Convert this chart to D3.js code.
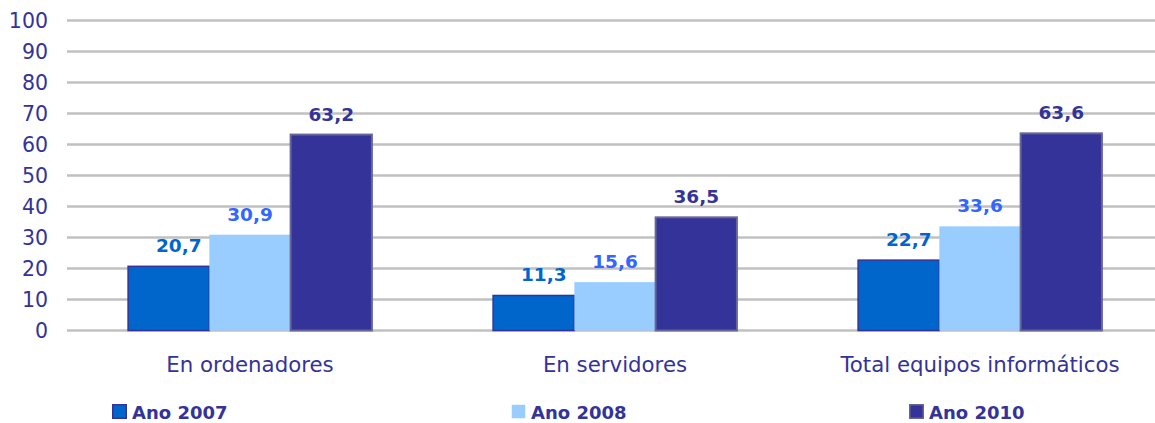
<!DOCTYPE html>
<html>
<head>
<meta charset="utf-8">
<script src="https://cdn.jsdelivr.net/npm/d3@7"></script>
<style>
  html, body { margin: 0; padding: 0; background: #fff; }
  svg { display: block; font-family: "DejaVu Sans", Verdana, sans-serif; }
</style>
</head>
<body>
<svg id="chart" width="1155" height="423"></svg>
<script>
const categories = ["En ordenadores", "En servidores", "Total equipos informáticos"];
const seriesNames = ["Ano 2007", "Ano 2008", "Ano 2010"];
const values2007 = [20.7, 11.3, 22.7];
const values2008 = [30.9, 15.6, 33.6];
const values2010 = [63.2, 36.5, 63.6];
const yTicks = [0, 10, 20, 30, 40, 50, 60, 70, 80, 90, 100];

const seriesValues = [values2007, values2008, values2010];
const fills = ["#0066CC", "#99CCFF", "#333399"];
const strokes = ["#333399", "none", "#666699"];
const labelColors = ["#0066CC", "#3366FF", "#333399"];
const labelDx = [10, 0, 0];

const svg = d3.select("#chart");

const y = d3.scaleLinear().domain([0, 100]).range([330.5, 20.5]);
const x0 = d3.scaleBand().domain(categories).range([67.5, 1162.5])
  .paddingInner(0.332).paddingOuter(0.166);
const x1 = d3.scaleBand().domain(seriesNames).range([0, x0.bandwidth()]);

// gridlines
svg.append("g").selectAll("line").data(yTicks).join("line")
  .attr("x1", 67).attr("x2", 1155)
  .attr("y1", d => y(d)).attr("y2", d => y(d))
  .attr("stroke", "#c0c0c0").attr("stroke-width", 2.5);

// y tick labels
svg.append("g").selectAll("text").data(yTicks).join("text")
  .attr("x", 48).attr("y", d => y(d)).attr("dy", "0.36em")
  .attr("text-anchor", "end")
  .attr("fill", "#333399").attr("font-size", 20.5)
  .text(d => d);

// bars
const rows = [];
categories.forEach((c, ci) => {
  seriesNames.forEach((s, si) => {
    rows.push({ cat: c, series: s, si: si, value: seriesValues[si][ci] });
  });
});

svg.append("g").selectAll("rect").data(rows).join("rect")
  .attr("x", d => x0(d.cat) + x1(d.series))
  .attr("width", x1.bandwidth())
  .attr("y", d => y(d.value))
  .attr("height", d => y(0) - y(d.value))
  .attr("fill", d => fills[d.si])
  .attr("stroke", d => strokes[d.si])
  .attr("stroke-width", d => d.si === 2 ? 2 : 1.5);

// value labels
svg.append("g").selectAll("text").data(rows).join("text")
  .attr("x", d => x0(d.cat) + x1(d.series) + x1.bandwidth() / 2 + labelDx[d.si])
  .attr("y", d => y(d.value) - 14)
  .attr("text-anchor", "middle")
  .attr("font-weight", "bold").attr("font-size", 18.5)
  .attr("fill", d => labelColors[d.si])
  .text(d => d.value.toFixed(1).replace(".", ","));

// category labels
svg.append("g").selectAll("text").data(categories).join("text")
  .attr("x", d => x0(d) + x0.bandwidth() / 2)
  .attr("y", 372)
  .attr("text-anchor", "middle")
  .attr("fill", "#333399").attr("font-size", 21.3)
  .text(d => d);

// legend
const legendX = [112, 511, 909];
const lg = svg.append("g").selectAll("g").data(seriesNames).join("g")
  .attr("transform", (d, i) => `translate(${legendX[i]},404)`);
lg.append("rect")
  .attr("x", 0.75).attr("y", 0.75).attr("width", 13.5).attr("height", 13.5)
  .attr("fill", (d, i) => fills[i])
  .attr("stroke", (d, i) => strokes[i])
  .attr("stroke-width", 1.5);
lg.append("text")
  .attr("x", 20).attr("y", 15)
  .attr("fill", "#333399").attr("font-weight", "bold").attr("font-size", 18)
  .text(d => d);
</script>
</body>
</html>
